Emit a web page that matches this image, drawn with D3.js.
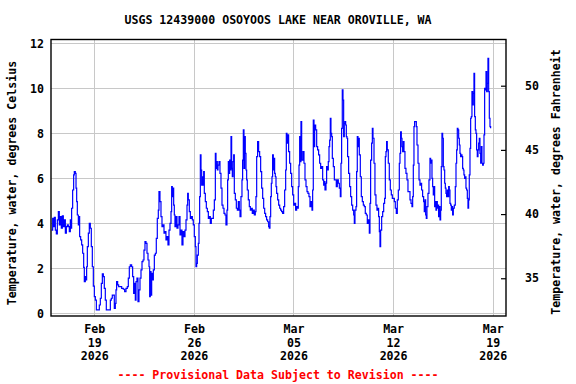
<!DOCTYPE html>
<html>
<head>
<meta charset="utf-8">
<script src="https://cdn.jsdelivr.net/npm/d3@7"></script>
<style>
  html, body { margin: 0; padding: 0; background: #fff; }
  svg text { font-family: "DejaVu Sans Mono", "Liberation Mono", monospace; font-weight: bold; font-size: 11.6px; }
</style>
</head>
<body>
<svg id="chart" width="576" height="384"></svg>
<script>
// ---- data ----
const title = "USGS 12439000 OSOYOOS LAKE NEAR OROVILLE, WA";
const leftTitle = "Temperature, water, degrees Celsius";
const rightTitle = "Temperature, water, degrees Fahrenheit";
const footnote = "---- Provisional Data Subject to Revision ----";
const startTime = Date.UTC(2026, 1, 16, 0, 0);
const hours = [
  0.0,1.8,2.9,4.6,6.3,8.0,9.7,11.4,13.0,14.7,16.4,18.1,19.8,21.5,23.2,24.9,26.5,28.2,29.9,31.6,32.7,33.8,35.5,37.2,38.3,40.0,41.2,42.3,43.4,45.1,46.2,47.3,49.0,50.7,52.4,54.1,55.2,56.9,58.0,59.1,60.3,62.0,63.6,65.3,67.0,68.7,70.4,72.1,73.8,75.5,77.1,78.8,80.5,82.2,83.9,85.6,87.3,88.9,90.6,92.3,94.0,95.7,97.4,99.1,100.7,102.4,104.1,105.8,107.5,108.6,109.7,111.4,113.1,115.4,118.2,121.0,123.2,125.5,127.7,129.4,131.1,132.8,135.0,136.7,138.4,140.1,141.2,142.4,144.0,145.7,147.4,149.1,150.8,152.5,154.2,155.8,
  157.5,159.2,160.9,162.6,164.3,165.4,166.5,167.7,168.8,169.9,171.6,173.3,175.0,176.6,178.3,180.0,181.1,182.8,184.5,186.2,187.9,189.6,191.3,192.9,194.6,196.3,198.0,199.7,201.4,202.5,203.6,204.8,205.9,207.0,208.1,209.8,211.5,213.2,214.9,216.6,218.2,219.9,221.6,223.3,225.0,226.7,228.4,229.5,230.6,232.3,234.0,235.7,237.4,239.0,240.7,242.4,243.5,244.7,245.8,247.5,248.6,249.7,250.9,252.0,253.1,254.2,255.4,256.5,257.6,259.3,261.0,262.7,264.4,266.0,267.7,269.4,271.1,272.8,274.5,276.2,277.3,278.4,279.5,280.7,282.3,284.0,285.7,287.4,289.1,290.8,292.5,294.1,295.8,296.9,298.1,299.2,300.3,301.4,302.6,303.7,304.8,305.9,307.1,308.2,309.9,311.6,313.3,314.9,316.6,
  317.8,319.4,321.1,322.2,323.4,324.5,325.6,326.7,327.9,329.0,330.1,331.8,333.5,335.2,336.9,338.5,340.2,341.9,343.6,344.7,345.9,347.5,349.2,350.9,352.6,354.3,356.0,357.7,359.4,361.0,362.7,364.4,366.1,367.2,368.3,369.5,370.6,371.7,372.8,374.0,375.1,376.2,377.3,378.5,379.6,381.3,383.0,384.7,386.3,388.0,389.7,391.4,393.1,394.8,395.9,397.0,398.1,399.8,401.5,403.2,404.9,406.6,408.3,410.0,411.6,413.3,415.0,416.1,417.3,418.4,419.5,420.6,421.8,422.9,424.0,425.7,427.4,429.1,430.8,432.4,434.1,435.8,437.5,439.2,440.3,441.4,442.6,443.7,445.4,447.1,448.7,450.4,452.1,453.8,455.5,457.2,458.9,460.6,
  461.1,462.8,463.9,465.6,466.7,467.9,469.0,470.1,471.2,472.4,473.5,475.2,476.9,478.5,480.2,481.9,483.6,485.3,487.0,488.1,489.2,490.3,491.5,492.6,493.7,494.8,496.0,497.1,498.2,499.3,501.0,502.7,504.4,506.1,507.8,509.5,510.6,511.7,513.4,514.5,515.6,516.8,517.9,519.0,520.7,522.4,524.1,525.8,527.5,529.1,530.8,532.5,534.2,535.9,537.0,538.1,539.8,541.0,542.1,543.8,545.4,547.1,548.8,550.5,551.6,552.8,553.9,555.0,556.7,558.4,560.1,561.7,562.9,564.0,565.1,566.2,567.9,569.6,571.3,573.0,574.7,576.4,578.1,579.7,581.4,583.1,584.8,586.5,587.6,588.7,589.9,591.0,592.1,593.2,594.4,596.0,597.7,599.4,601.1,602.8,
  604.5,606.2,607.8,609.0,610.1,611.2,612.3,614.0,615.2,616.3,618.0,619.7,621.3,623.0,624.1,625.8,627.5,628.6,629.8,630.9,632.0,633.1,634.8,636.5,638.2,639.3,640.5,641.6,642.7,643.8,645.0,646.1,647.2,648.3,649.4,650.6,651.7,652.8,654.0,655.1,656.2,657.3,658.4,659.6,660.7,661.8,663.0,664.1,665.2,666.3,667.4,668.6,669.7,670.8,671.9,673.1,674.2,675.3,676.4,677.6,679.2,680.9,682.1,683.2,684.3,685.4,686.6,687.7,688.8,689.9,691.1,692.2,693.3,694.4,695.5,696.7,697.8,698.9,700.0,701.2,702.3,703.4,704.5,705.7,706.8,707.9,709.0,710.2,711.3,712.4,713.5,714.7,715.8,716.9,718.0,719.2,720.3,721.4,722.5,723.7,724.8,725.9,727.0,728.2,729.3,730.4,731.5,732.7,733.8,734.9,736.0,737.2,738.3,739.4,740.5
];
const tempC = [
  3.70,4.22,3.85,4.27,3.70,3.53,4.15,4.52,3.93,4.30,3.78,4.33,3.85,4.15,3.56,3.85,3.93,3.85,3.63,4.15,3.78,4.67,5.48,6.15,6.30,6.22,5.56,4.96,4.37,3.93,4.30,3.41,3.26,3.04,2.67,2.04,1.41,1.63,1.48,2.07,2.96,3.56,4.00,3.78,2.96,2.07,1.21,0.74,0.59,0.15,0.15,0.15,0.37,0.67,1.33,1.75,1.63,1.11,0.59,0.15,0.15,0.15,0.15,0.59,0.67,0.81,0.81,0.22,0.44,1.04,1.41,1.26,1.19,1.19,1.11,1.07,0.96,1.11,1.19,1.56,2.07,2.15,2.07,1.63,0.89,1.33,0.59,1.41,1.56,0.52,1.04,1.56,1.93,2.30,2.37,2.81,
  3.19,3.11,2.67,2.37,2.07,0.74,1.85,0.81,1.78,1.48,1.93,2.59,2.67,3.33,4.22,4.59,5.41,4.96,4.30,3.85,3.93,3.56,3.63,3.26,3.41,3.04,3.70,4.00,4.52,5.63,5.19,5.56,4.81,4.37,3.85,4.30,3.78,3.93,4.30,3.48,3.70,3.04,3.63,3.41,3.70,4.15,4.81,5.33,5.04,4.52,4.22,4.30,4.15,3.93,3.41,2.96,2.07,2.22,2.59,3.11,4.00,5.19,7.04,6.37,5.70,6.07,5.70,6.30,5.33,4.96,4.67,4.52,4.22,4.30,4.00,4.22,4.22,4.59,5.04,7.11,6.44,6.74,6.37,6.59,6.74,6.22,5.56,4.81,4.67,4.44,4.37,3.93,4.59,5.93,6.74,6.22,6.81,6.37,7.85,6.44,6.07,6.74,7.04,5.33,5.04,4.67,4.59,4.96,4.59,
  4.30,5.19,5.93,6.81,8.15,6.44,7.85,7.11,6.37,5.93,5.48,5.04,4.74,4.59,4.67,4.44,4.59,4.37,4.52,5.19,6.96,7.63,7.19,6.96,6.30,5.56,5.11,4.67,4.44,4.30,4.15,4.07,3.85,3.78,4.30,5.19,5.78,6.07,7.04,6.37,6.89,6.22,6.07,5.63,5.33,5.04,4.81,4.67,4.59,4.52,4.44,4.74,5.48,6.37,8.00,7.56,7.93,7.19,6.67,6.22,5.63,5.26,4.81,4.89,4.59,4.74,4.67,5.63,6.59,7.85,6.74,8.52,6.81,6.81,7.19,6.67,5.93,5.63,5.41,5.33,5.19,4.74,4.96,4.59,5.48,8.59,7.41,8.37,8.15,7.41,7.26,7.04,6.67,6.44,6.52,5.93,5.70,5.85,
  5.48,5.78,6.52,6.37,6.74,7.41,7.70,8.67,8.00,7.85,6.89,6.52,5.93,5.93,5.63,5.93,5.78,5.56,5.19,6.67,8.22,9.93,9.48,7.85,8.44,8.52,8.37,7.85,7.78,6.96,6.22,5.63,5.19,4.81,4.59,4.37,4.00,4.59,4.74,6.30,7.85,7.41,7.78,7.04,6.07,5.19,4.96,4.81,4.74,4.44,4.37,4.00,4.15,3.56,4.89,6.81,7.56,8.22,7.78,6.67,5.26,4.81,4.59,4.67,4.30,3.63,2.96,3.70,4.30,4.52,4.89,5.11,6.96,7.19,7.63,7.26,6.67,5.93,5.48,5.26,5.11,5.11,4.96,4.67,4.44,5.04,5.48,6.67,7.11,8.07,7.78,7.41,7.19,7.63,7.19,6.44,6.22,5.93,5.41,5.41,
  5.04,4.89,4.74,5.19,6.59,8.30,8.52,8.52,8.30,7.48,6.67,5.93,5.70,5.78,5.48,5.19,4.96,4.52,5.04,4.37,4.22,4.74,5.33,5.93,6.89,6.67,6.81,6.00,5.63,5.26,5.63,4.74,4.96,4.59,4.96,4.67,4.81,4.30,4.74,4.15,4.59,6.52,8.00,7.78,6.52,6.37,5.78,5.56,5.33,5.19,5.48,5.19,5.63,5.48,4.89,4.81,4.59,4.74,4.37,4.67,4.81,5.63,6.67,7.26,8.22,8.15,7.78,7.48,7.11,6.96,7.04,6.96,6.44,6.37,6.15,6.00,6.07,5.56,5.48,5.11,4.67,5.04,6.15,7.33,8.67,8.74,9.85,9.26,9.78,10.67,8.74,8.15,8.00,7.26,6.96,7.26,7.56,7.78,7.11,6.67,7.41,6.67,6.59,6.67,7.93,10.00,9.93,10.74,9.85,10.22,11.33,9.85,8.67,8.30,8.22
];
const celsiusTicks = [0, 2, 4, 6, 8, 10, 12];
const fahrenheitTicks = [35, 40, 45, 50];
const dateTicks = ["2026-02-19", "2026-02-26", "2026-03-05", "2026-03-12", "2026-03-19"];

// ---- layout ----
const svg = d3.select("#chart");
const L = 51, R = 506, T = 39.5, B = 316;

const data = hours.map((h, i) => ({ t: new Date(startTime + h * 3600e3), v: tempC[i] }));

const x = d3.scaleUtc()
  .domain([new Date(Date.UTC(2026, 1, 15, 23, 0)), new Date(Date.UTC(2026, 2, 19, 22, 26))])
  .range([L, R]);
const y = d3.scaleLinear().domain([-0.12, 12.17]).range([B, T]);
const yF = d3.scaleLinear().domain([32.06, 53.6]).range([B, T]);

const grid = "#c8c8c8";

// horizontal grid
svg.append("g").selectAll("line").data(celsiusTicks).join("line")
  .attr("x1", L).attr("x2", R)
  .attr("y1", d => Math.round(y(d)) + 0.5).attr("y2", d => Math.round(y(d)) + 0.5)
  .attr("stroke", grid).attr("stroke-width", 1);

// vertical grid
const tickDates = dateTicks.map(s => new Date(s + "T00:00:00Z"));
svg.append("g").selectAll("line").data(tickDates).join("line")
  .attr("x1", d => Math.round(x(d)) + 0.5).attr("x2", d => Math.round(x(d)) + 0.5)
  .attr("y1", T).attr("y2", B)
  .attr("stroke", grid).attr("stroke-width", 1);

// line
svg.append("path").datum(data)
  .attr("fill", "none").attr("stroke", "#0000ff").attr("stroke-width", 1.2)
  .attr("stroke-linejoin", "miter")
  .attr("d", d3.line().curve(d3.curveStepAfter).x(d => x(d.t)).y(d => y(d.v)));

// frame
svg.append("rect").attr("x", L).attr("y", T).attr("width", R - L).attr("height", B - T)
  .attr("fill", "none").attr("stroke", "#000").attr("stroke-width", 1.4);

// left axis labels
const leftAxis = d3.axisLeft(y).tickValues(celsiusTicks).tickSize(0).tickPadding(7);
const gl = svg.append("g").attr("transform", `translate(${L},0)`).call(leftAxis);
gl.select(".domain").remove();
gl.selectAll("text").attr("fill", "#000").attr("font-family", null).attr("font-size", null);

// right axis (Fahrenheit) - inward ticks
const rightAxis = d3.axisRight(yF).tickValues(fahrenheitTicks).tickSizeInner(-5).tickSizeOuter(0).tickPadding(19);
const gr = svg.append("g").attr("transform", `translate(${R},0)`).call(rightAxis);
gr.select(".domain").remove();
gr.selectAll("line").attr("stroke", "#000").attr("stroke-width", 1.2);
gr.selectAll("text").attr("fill", "#000").attr("font-family", null).attr("font-size", null);

// bottom axis labels (3 lines)
const fmtM = d3.utcFormat("%b"), fmtD = d3.utcFormat("%d"), fmtY = d3.utcFormat("%Y");
const bottomAxis = d3.axisBottom(x).tickValues(tickDates).tickSize(0).tickPadding(0).tickFormat("");
const gb = svg.append("g").attr("transform", `translate(0,${B})`).call(bottomAxis);
gb.select(".domain").remove();
gb.selectAll(".tick text").each(function (d) {
  const t = d3.select(this).attr("y", 0).attr("dy", null).attr("fill", "#000")
    .attr("font-family", null).attr("font-size", null);
  [fmtM(d), fmtD(d), fmtY(d)].forEach((s, i) => {
    t.append("tspan").attr("x", 0).attr("y", 17 + i * 13.5).text(s);
  });
});

// titles
svg.append("text").attr("x", 278).attr("y", 24).attr("text-anchor", "middle").text(title);
svg.append("text").attr("transform", "translate(16,183) rotate(-90)")
  .attr("text-anchor", "middle").text(leftTitle);
svg.append("text").attr("transform", "translate(560,182) rotate(-90)")
  .attr("text-anchor", "middle").text(rightTitle);
svg.append("text").attr("x", 278).attr("y", 379).attr("text-anchor", "middle")
  .attr("fill", "#ff0000").text(footnote);
</script>
</body>
</html>
